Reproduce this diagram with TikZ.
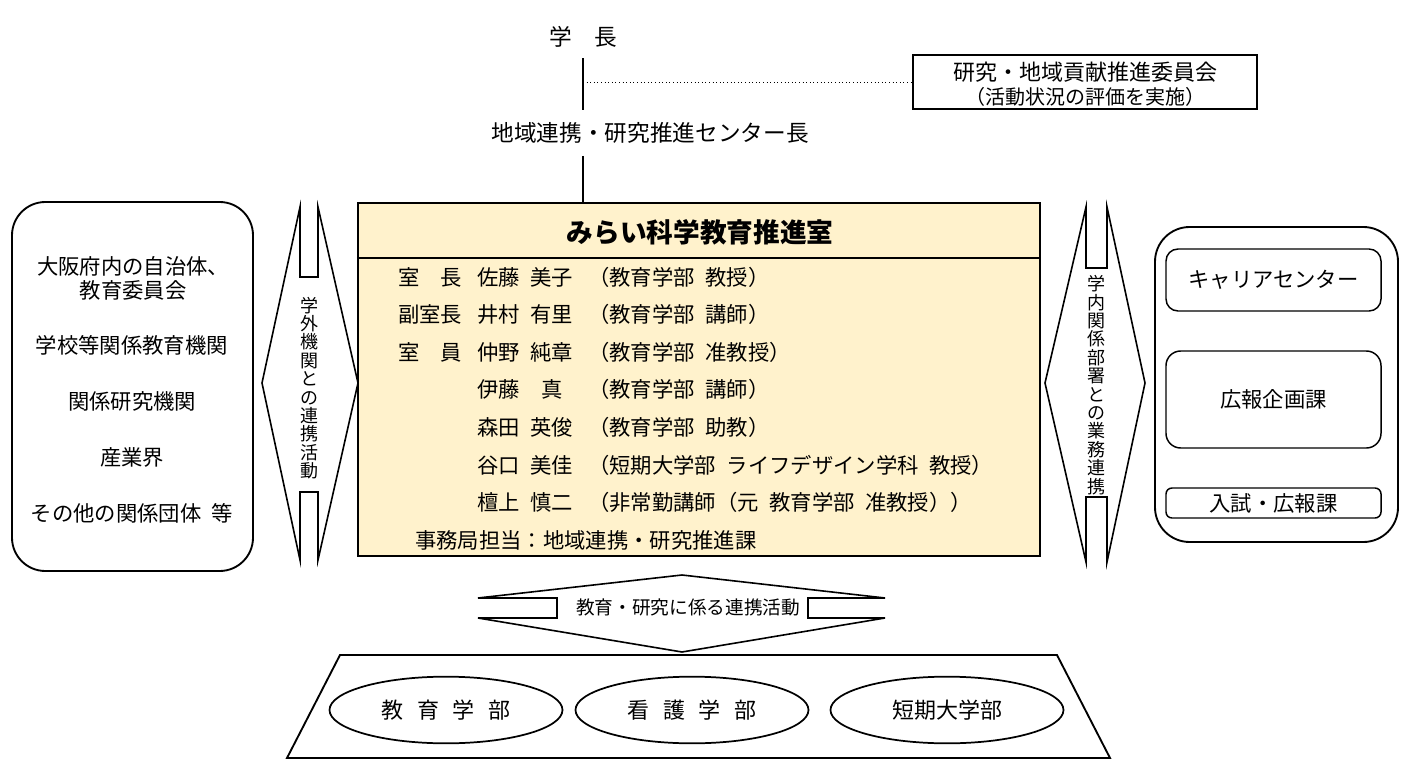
\documentclass[tikz,border=0pt]{standalone}
\usepackage{fontspec}
\usepackage{tikz}
\usetikzlibrary{shapes.geometric}
\newfontfamily\jpfont[WordSpace=2.2]{Noto Sans CJK JP}
\definecolor{roomfill}{HTML}{FFF2CC}

\begin{document}
\begin{tikzpicture}[x=0.75pt,y=-0.75pt]
        \tikzset{every node/.style={inner sep=0pt, font=\jpfont\fontsize{16}{19}\selectfont},
        HeadText/.style={inner ysep=8pt, font=\jpfont\fontsize{17}{20}\selectfont},
        RoomBox/.style={draw, line width=1.6pt, fill=roomfill, minimum width=511.5pt, minimum height=264.75pt},
        CmtBox/.style={draw, line width=0.8pt, minimum width=258pt, minimum height=40.5pt},
        OuterBox/.style={draw, line width=1.4pt, rounded corners=25pt},
        InnerBox/.style={draw, line width=1.1pt, minimum width=161.25pt},
        LinkArrow/.style={draw, line width=1.2pt, fill=white, line join=miter},
        VText/.style={align=center, font=\jpfont\fontsize{13.5}{13.8}\selectfont},
        Faculty/.style={draw, ellipse, line width=1.3pt, minimum width=174.75pt, minimum height=50pt, font=\jpfont\fontsize{16.5}{19}\selectfont},
        TrunkLine/.style={line width=1.5pt}}
        \path[fill=white] (0,0) rectangle (1410,770);
        \useasboundingbox (0,0) rectangle (1410,770);
        \node[HeadText] (pres) at (583,37) {学　長};
        \node[HeadText, inner ysep=9pt] (dir) at (650,133) {地域連携・研究推進センター長};
        \node[CmtBox] (cmt) at (1085,82) {};
        \node[font=\jpfont\fontsize{16.5}{19}\selectfont] (cmt-a) at (1085,72) {研究・地域貢献推進委員会};
        \node[font=\jpfont\fontsize{15}{17}\selectfont] (cmt-b) at (1085,97) {（活動状況の評価を実施）};
        \node[RoomBox] (room) at (699,379.5) {};
        \coordinate (tap) at (583,82);
        \draw[TrunkLine] (pres.south) -- (pres.south |- dir.north);
        \draw[TrunkLine] (pres.south |- dir.south) -- (pres.south |- room.north);
        \draw[dotted, line width=0.7pt] (tap) -- (cmt.west);
        \draw[line width=1.6pt] (room.west |- 0,258) -- (room.east |- 0,258);
        \node[font=\jpfont\bfseries\fontsize{20}{24}\selectfont] (title) at (700,232) {みらい科学教育推進室};
        \node[anchor=west] (r1) at (398,277) {室　長};
        \node[anchor=west] (n1) at (477,277) {佐藤 美子};
        \node[anchor=west] (a1) at (588,277) {（教育学部 教授）};
        \node[anchor=west] (r2) at (398,314) {副室長};
        \node[anchor=west] (n2) at (477,314) {井村 有里};
        \node[anchor=west] (a2) at (588,314) {（教育学部 講師）};
        \node[anchor=west] (r3) at (398,352) {室　員};
        \node[anchor=west] (n3) at (477,352) {仲野 純章};
        \node[anchor=west] (a3) at (588,352) {（教育学部 准教授）};
        \node[anchor=west] (n4) at (477,389) {伊藤　真};
        \node[anchor=west] (a4) at (588,389) {（教育学部 講師）};
        \node[anchor=west] (n5) at (477,427) {森田 英俊};
        \node[anchor=west] (a5) at (588,427) {（教育学部 助教）};
        \node[anchor=west] (n6) at (477,465) {谷口 美佳};
        \node[anchor=west] (a6) at (588,465) {（短期大学部 ライフデザイン学科 教授）};
        \node[anchor=west] (n7) at (477,502) {檀上 慎二};
        \node[anchor=west] (a7) at (588,502) {（非常勤講師（元 教育学部 准教授））};
        \node[anchor=west] (office) at (415,540) {事務局担当：地域連携・研究推進課};
        \node[OuterBox, minimum width=180.75pt, minimum height=276.75pt] (ext) at (132.5,386.5) {};
        \node (ext-a) at (133,266) {大阪府内の自治体、};
        \node (ext-b) at (133,290) {教育委員会};
        \node (ext-c) at (132,345) {学校等関係教育機関};
        \node (ext-d) at (132,401) {関係研究機関};
        \node (ext-e) at (132,457) {産業界};
        \node (ext-f) at (132,513) {その他の関係団体 等};
        \draw[LinkArrow] (300,207) -- (300,277) -- (318,277) -- (318,207) -- (358,383) -- (318,560) -- (318,492) -- (300,492) -- (300,560) -- (262,383) -- cycle;
        \node[VText] (extlink) at (309,388) {学\\外\\機\\関\\と\\の\\連\\携\\活\\動};
        \draw[LinkArrow] (1086,207) -- (1086,268) -- (1107,268) -- (1107,207) -- (1145,383) -- (1107,562) -- (1107,497) -- (1086,497) -- (1086,562) -- (1045,383) -- cycle;
        \node[VText] (intlink) at (1096,385) {学\\内\\関\\係\\部\\署\\と\\の\\業\\務\\連\\携};
        \node[OuterBox, rounded corners=26pt, minimum width=182.25pt, minimum height=236.25pt] (int) at (1276.5,384.5) {};
        \node[InnerBox, rounded corners=9pt, minimum height=46.5pt] (career) at (1273.5,280) {キャリアセンター};
        \node[InnerBox, rounded corners=11pt, minimum height=72.75pt] (pr) at (1273.5,399.5) {広報企画課};
        \node[InnerBox, rounded corners=4.5pt, minimum height=22.5pt] (adm) at (1273.5,503) {入試・広報課};
        \draw[LinkArrow] (478,598) -- (557,598) -- (557,618) -- (478,618) -- (682,652) -- (885,618) -- (808,618) -- (808,598) -- (885,598) -- (682,575) -- cycle;
        \node[font=\jpfont\fontsize{14}{16}\selectfont] (coop) at (688,607) {教育・研究に係る連携活動};
        \draw[line width=1.4pt] (340,655) -- (1057,655) -- (1110,758) -- (287,758) -- cycle;
        \node[Faculty] (edu) at (446,710) {教\hspace{.12em} 育\hspace{.12em} 学\hspace{.12em} 部};
        \node[Faculty] (nurs) at (692,710) {看\hspace{.12em} 護\hspace{.12em} 学\hspace{.12em} 部};
        \node[Faculty] (jc) at (947,710) {短期大学部};
    \end{tikzpicture}
\end{document}
